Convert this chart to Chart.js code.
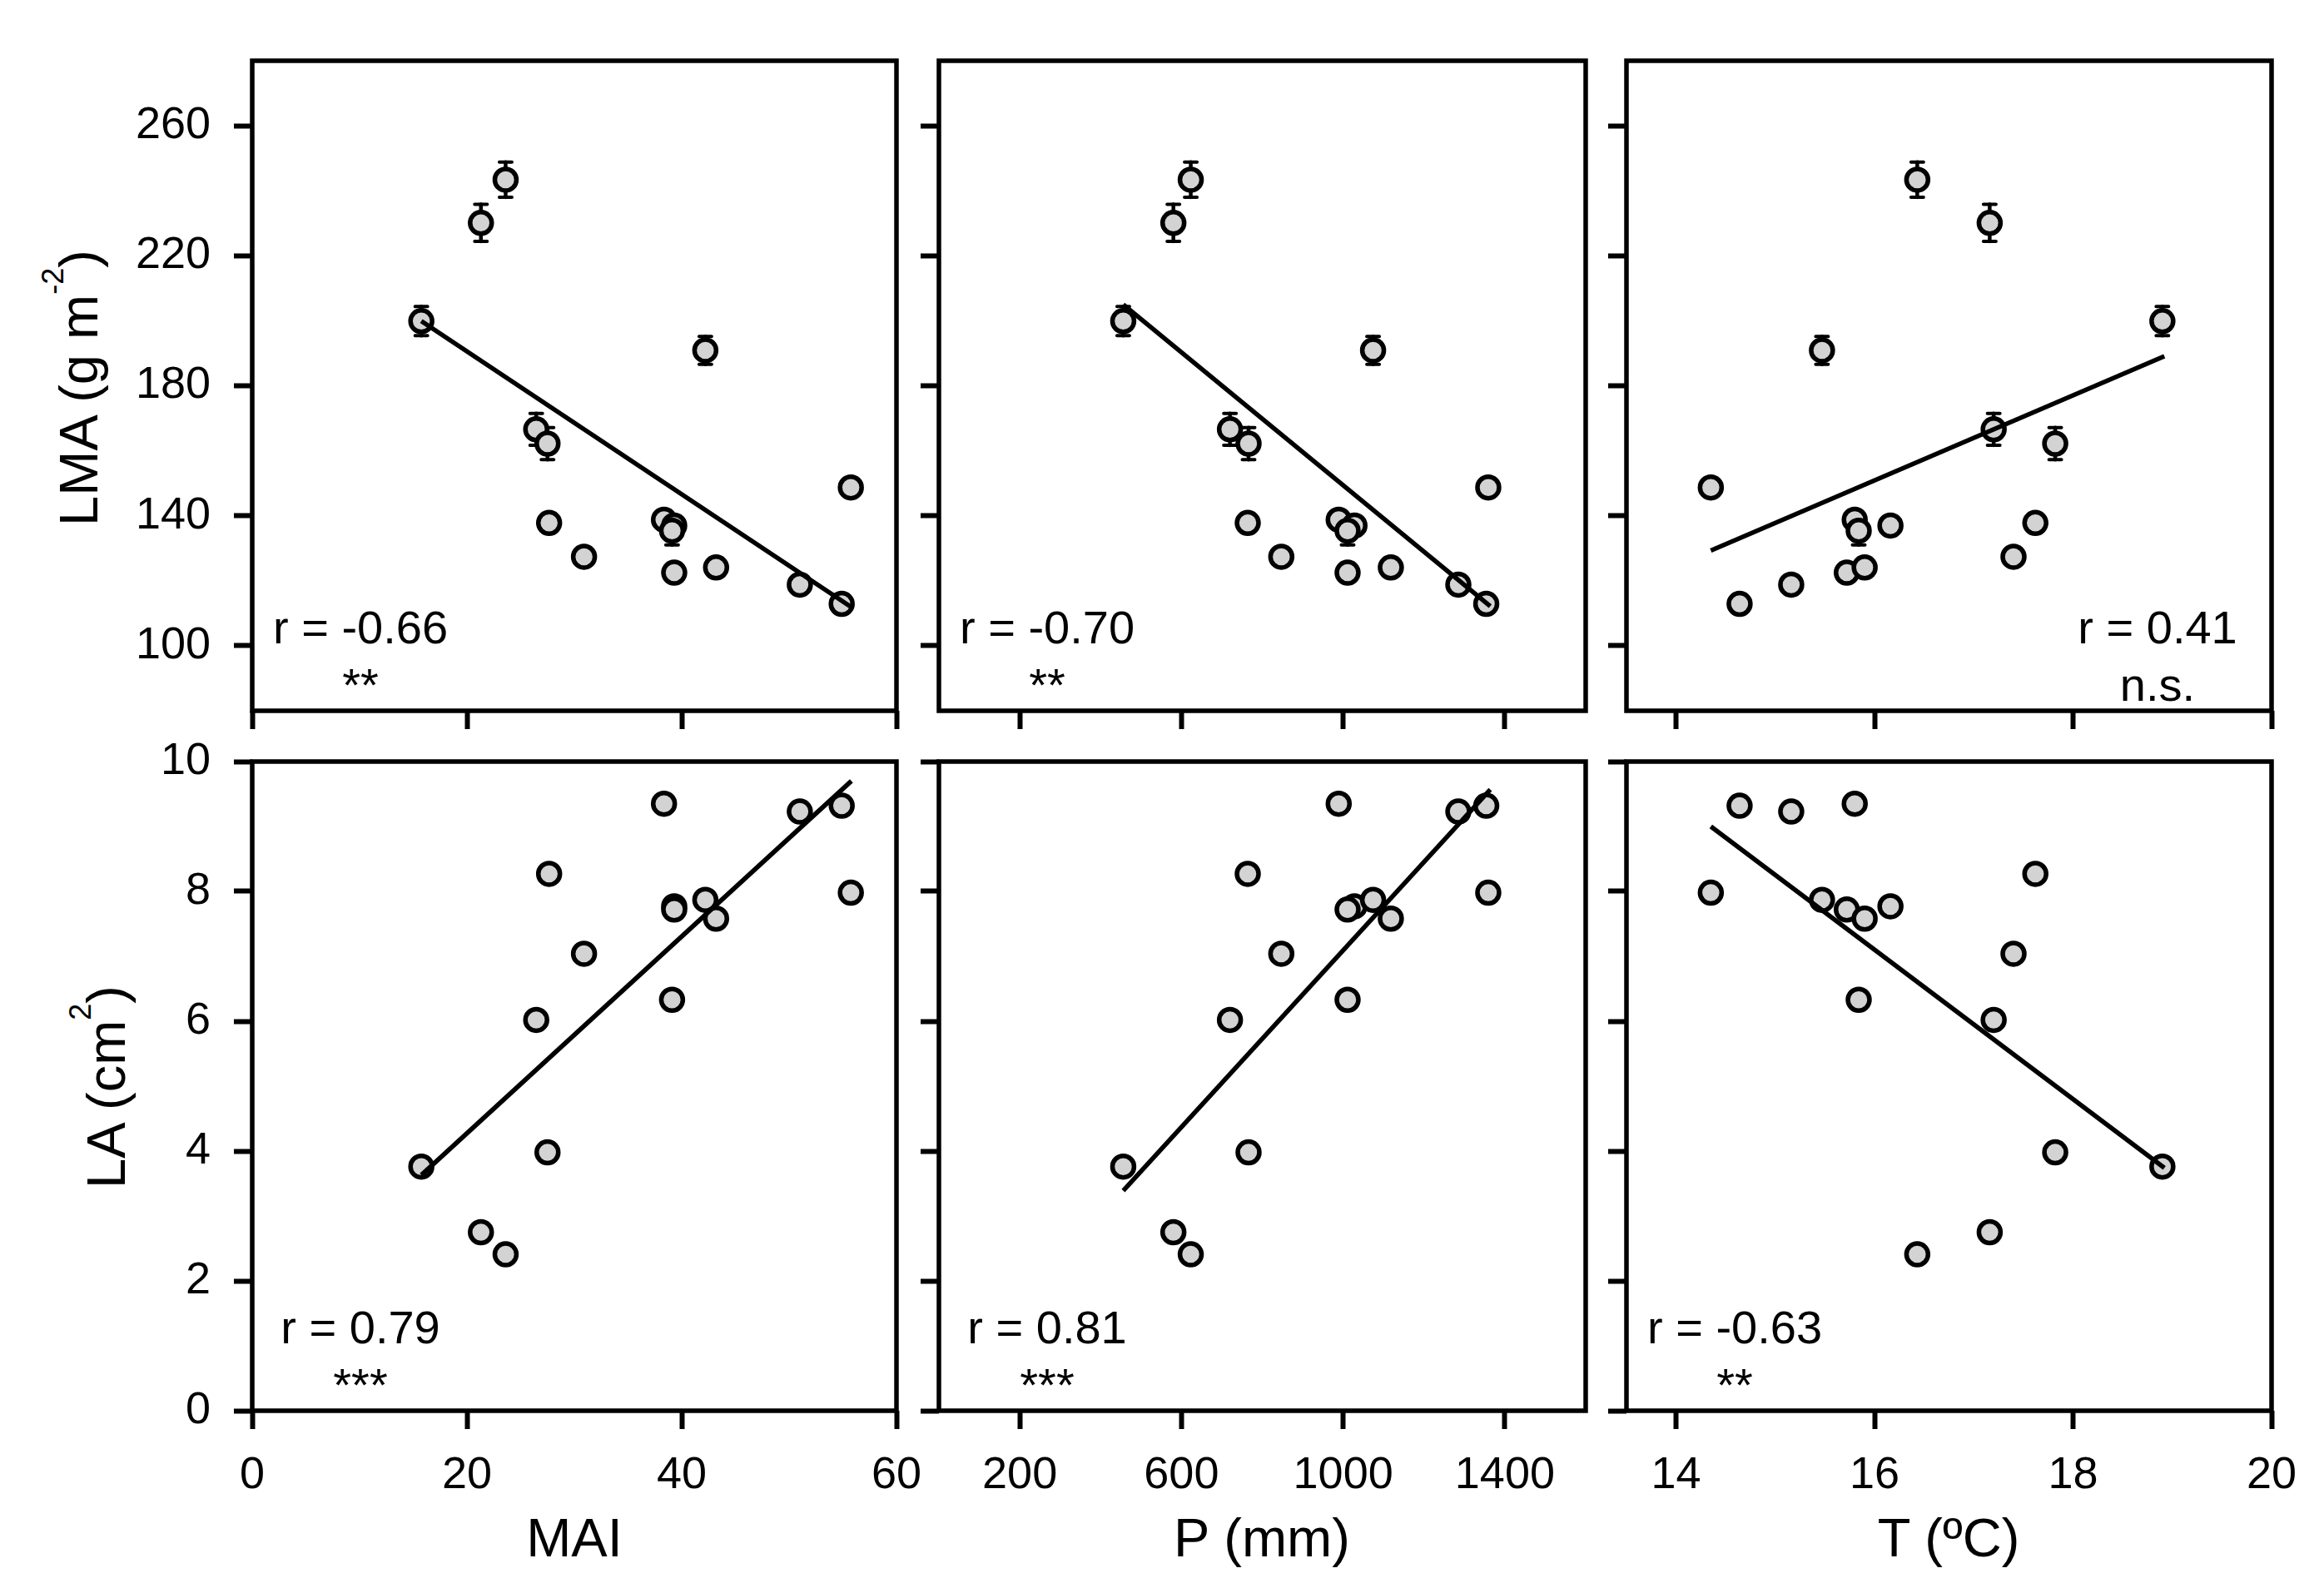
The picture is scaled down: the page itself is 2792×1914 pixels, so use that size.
<!DOCTYPE html>
<html>
<head>
<meta charset="utf-8">
<script src="https://cdn.jsdelivr.net/npm/chart.js@4.4.1/dist/chart.umd.min.js"></script>
<style>
body { margin: 0; background: #fff; }
#fig { position: relative; width: 2792px; height: 1914px; background: #fff; font-family: "Liberation Sans", Arial, sans-serif; }
#fig canvas { position: absolute; }
.title { position: absolute; white-space: nowrap; line-height: 1; font-size: 65px; color: #000; transform: translate(-50%, -50%); }
.title.rot { transform: translate(-50%, -50%) rotate(-90deg); }
.title .sup { font-size: 36px; position: relative; top: -41px; }
</style>
</head>
<body>
<div id="fig">
	<div class="title rot" style="left:94px; top:466px">LMA (g m<span class="sup">-2</span>)</div>
	<div class="title rot" style="left:127px; top:1306px">LA (cm<span class="sup">2</span>)</div>
	<div class="title" style="left:690px; top:1847px">MAI</div>
	<div class="title" style="left:1516px; top:1847px">P (mm)</div>
	<div class="title" style="left:2341px; top:1847px">T (ºC)</div>
</div>
<script>
// site means, sorted by MAI
const mai = [15.75, 21.3, 23.6, 26.45, 27.5, 27.65, 30.9, 38.35, 39.3, 39.1, 39.3, 42.2, 43.2, 51.0, 54.9, 55.75];
const precip = [456, 580, 623, 720, 766, 764, 847, 989, 1028, 1011, 1011, 1074, 1118, 1285, 1354, 1359];
const temp = [18.90, 17.16, 16.43, 17.20, 17.82, 17.62, 17.40, 15.80, 16.16, 15.84, 15.72, 15.47, 15.90, 15.16, 14.64, 14.35];
const lma = [199.9, 230.1, 243.4, 166.6, 162.2, 137.8, 127.4, 138.8, 137.0, 135.4, 122.5, 190.9, 124.1, 118.8, 112.9, 148.7];
const lmaSe = [4.5, 5.7, 5.4, 4.9, 4.9, 2.5, 2.0, 2.5, 2.5, 4.4, 2.0, 4.3, 2.0, 2.0, 2.5, 2.5];
const la = [3.76, 2.75, 2.41, 6.02, 3.98, 8.27, 7.04, 9.35, 7.77, 6.33, 7.72, 7.87, 7.58, 9.23, 9.32, 7.98];

// regression lines: x ends and y ends
const fitXMai = [15.75, 55.8];
const fitXP = [456, 1364];
const fitXT = [14.35, 18.92];
const fitLmaMai = [199.9, 111.9];
const fitLmaP = [205.0, 112.2];
const fitLmaT = [129.3, 189.1];
const fitLaMai = [3.63, 9.70];
const fitLaP = [3.39, 9.57];
const fitLaT = [9.0, 3.74];

const rText = ['r = -0.66', 'r = -0.70', 'r = 0.41', 'r = 0.79', 'r = 0.81', 'r = -0.63'];
const sigText = ['**', '**', 'n.s.', '***', '***', '**'];

const maiTicks = [0, 20, 40, 60];
const pTicks = [200, 600, 1000, 1400];
const tTicks = [14, 16, 18, 20];
const lmaTicks = [100, 140, 180, 220, 260];
const laTicks = [0, 2, 4, 6, 8, 10];

const FONT = '"Liberation Sans", Arial, sans-serif';
const colLeft = [303, 1128, 1954];
const colRight = [1077, 1905, 2729];
const rowTop = [73, 915];
const rowBottom = [854, 1695];

const xAxes = [
	{ vals: mai, min: 0, max: 60, ticks: maiTicks, fit: fitXMai },
	{ vals: precip, min: 0, max: 1600, ticks: pTicks, fit: fitXP },
	{ vals: temp, min: 13.5, max: 20, ticks: tTicks, fit: fitXT }
];
const yAxes = [
	{ vals: lma, se: lmaSe, min: 80, max: 280, ticks: lmaTicks, fits: [fitLmaMai, fitLmaP, fitLmaT] },
	{ vals: la, se: null, min: 0, max: 10, ticks: laTicks, fits: [fitLaMai, fitLaP, fitLaT] }
];

const fig = document.getElementById('fig');

// keep chart.js from adding room for edge labels
const noPad = s => {
	s.paddingTop = 0;
	s.paddingBottom = 0;
	s.paddingLeft = 0;
	s.paddingRight = 0;
};

const makePanel = (r, c) => {
	const xa = xAxes[c];
	const ya = yAxes[r];
	const n = r * 3 + c;
	const L = c === 0 ? 220 : 60;
	const R = 60, T = 40;
	const B = r === 0 ? 40 : 130;
	const w = colRight[c] - colLeft[c];
	const h = rowBottom[r] - rowTop[r];

	const canvas = document.createElement('canvas');
	canvas.width = L + w + R;
	canvas.height = T + h + B;
	canvas.style.left = (colLeft[c] - L) + 'px';
	canvas.style.top = (rowTop[r] - T) + 'px';
	canvas.style.width = canvas.width + 'px';
	canvas.style.height = canvas.height + 'px';
	fig.appendChild(canvas);

	const pts = xa.vals.map((v, i) => ({ x: v, y: ya.vals[i] }));
	const fit = ya.fits[c];
	const line = [{ x: xa.fit[0], y: fit[0] }, { x: xa.fit[1], y: fit[1] }];

	const deco = {
		id: 'deco' + n,
		beforeDatasetsDraw(chart) {
			if (!ya.se) return;
			const { ctx, scales: { x, y } } = chart;
			ctx.save();
			ctx.strokeStyle = '#000';
			ctx.lineCap = 'round';
			pts.forEach((p, i) => {
				const px = x.getPixelForValue(p.x);
				const top = y.getPixelForValue(p.y + ya.se[i]);
				const bot = y.getPixelForValue(p.y - ya.se[i]);
				ctx.lineWidth = 4.5;
				ctx.beginPath();
				ctx.moveTo(px, top);
				ctx.lineTo(px, bot);
				ctx.stroke();
				ctx.lineWidth = 4;
				ctx.beginPath();
				ctx.moveTo(px - 7.5, top);
				ctx.lineTo(px + 7.5, top);
				ctx.moveTo(px - 7.5, bot);
				ctx.lineTo(px + 7.5, bot);
				ctx.stroke();
			});
			ctx.restore();
		},
		afterDraw(chart) {
			const { ctx, chartArea: a } = chart;
			ctx.save();
			ctx.strokeStyle = '#000';
			ctx.lineWidth = 5.5;
			ctx.strokeRect(a.left, a.top, a.right - a.left, a.bottom - a.top);
			ctx.fillStyle = '#000';
			ctx.font = '56px ' + FONT;
			ctx.textAlign = 'center';
			ctx.textBaseline = 'alphabetic';
			const cx = n === 2 ? a.right - 137 : a.left + 130;
			ctx.fillText(rText[n], cx, a.bottom - 81);
			ctx.fillText(sigText[n], cx, a.bottom - 12);
			ctx.restore();
		}
	};

	const grid = {
		display: true,
		drawOnChartArea: false,
		drawTicks: true,
		tickLength: 22,
		tickWidth: 6,
		tickColor: '#000'
	};

	new Chart(canvas, {
		type: 'scatter',
		data: {
			datasets: [
				{
					type: 'line',
					data: line,
					borderColor: '#000',
					borderWidth: 5.5,
					pointRadius: 0,
					fill: false,
					order: 0,
					clip: false
				},
				{
					data: pts,
					pointRadius: 13,
					pointBackgroundColor: '#d3d3d3',
					pointBorderColor: '#000',
					pointBorderWidth: 5.5,
					backgroundColor: '#d3d3d3',
					borderColor: '#000',
					borderWidth: 5.5,
					order: 1,
					clip: false
				}
			]
		},
		options: {
			responsive: false,
			animation: false,
			devicePixelRatio: 1,
			layout: { padding: { top: T, right: R, left: 0, bottom: 0 } },
			plugins: { legend: { display: false }, tooltip: { enabled: false } },
			scales: {
				x: {
					type: 'linear',
					position: 'bottom',
					min: xa.min,
					max: xa.max,
					afterFit: s => { s.height = B; noPad(s); },
					afterBuildTicks: s => { s.ticks = xa.ticks.map(v => ({ value: v })); },
					grid: grid,
					border: { display: false },
					ticks: {
						display: r === 1,
						padding: 24,
						color: '#000',
						font: { family: FONT, size: 54 },
						callback: v => String(v)
					}
				},
				y: {
					type: 'linear',
					position: 'left',
					min: ya.min,
					max: ya.max,
					afterFit: s => { s.width = L; noPad(s); },
					afterBuildTicks: s => { s.ticks = ya.ticks.map(v => ({ value: v })); },
					grid: grid,
					border: { display: false },
					ticks: {
						display: c === 0,
						padding: 28,
						color: '#000',
						font: { family: FONT, size: 54 },
						callback: v => String(v)
					}
				}
			}
		},
		plugins: [deco]
	});
};

for (let r = 0; r < 2; r++) {
	for (let c = 0; c < 3; c++) {
		makePanel(r, c);
	}
}
</script>
</body>
</html>
